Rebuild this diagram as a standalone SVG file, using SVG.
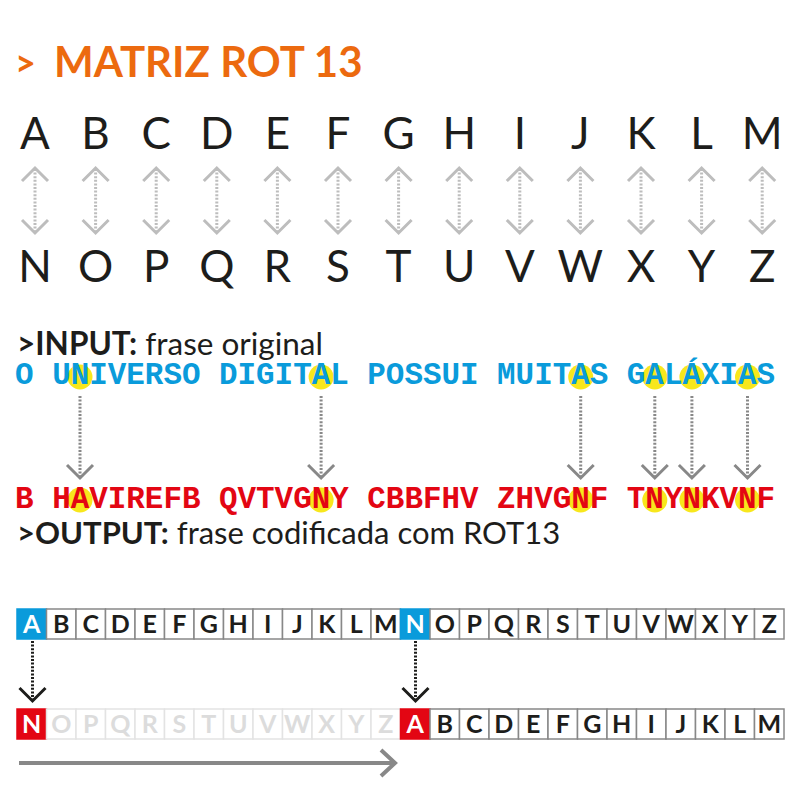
<svg xmlns="http://www.w3.org/2000/svg" width="800" height="800" viewBox="0 0 800 800">
<style>
.title{font-family:Lato,"Liberation Sans",sans-serif;font-weight:700;font-size:42px;fill:#EC6A0F}
.big{font-family:Lato,"Liberation Sans",sans-serif;font-weight:400;font-size:44px;fill:#1d1d1b;text-anchor:middle}
.lbl{font-family:Lato,"Liberation Sans",sans-serif;font-size:31px;fill:#1d1d1b}
.lbl .b{font-weight:700}
.mono{font-family:"Liberation Mono","Courier New",monospace;font-weight:700;font-size:30.9px}
.in{fill:#0A9BDB}
.out{fill:#E30613}
.hl{fill:#F8E71C}
.dl{stroke:#BDBDBD;stroke-width:3;stroke-dasharray:2 1.6;fill:none}
.dc{fill:none;stroke:#BDBDBD;stroke-width:3}
.ar line{stroke:#888;stroke-width:3;stroke-dasharray:2 1.6}
.ar polyline{fill:none;stroke:#888;stroke-width:3}
.dk line{stroke:#1d1d1b;stroke-width:3;stroke-dasharray:2 1.6}
.dk polyline{fill:none;stroke:#1d1d1b;stroke-width:3}
.cell{fill:#fff;stroke:#888;stroke-width:1.5}
.cellL{fill:#fff;stroke:#e3e3e3;stroke-width:1.5}
.ct{font-family:Lato,"Liberation Sans",sans-serif;font-weight:700;font-size:25px;text-anchor:middle;fill:#1d1d1b}
.ctL{fill:#dcdcdc}
.ctW{fill:#fff}
</style>
<defs>
<g id="dbl">
<line class="dl" x1="0" y1="169" x2="0" y2="232"/>
<polyline class="dc" points="-13,181 0,168 13,181"/>
<polyline class="dc" points="-13,220 0,233 13,220"/>
</g>
</defs>

<g id="title">
<text class="title" x="15" y="76" style="font-size:36px">&gt;</text>
<text class="title" x="54" y="77">MATRIZ ROT 13</text>
</g>

<g id="matrix">
<g id="row-top">
<text class="big" x="35" y="149">A</text>
<text class="big" x="95.6" y="149">B</text>
<text class="big" x="156.2" y="149">C</text>
<text class="big" x="216.8" y="149">D</text>
<text class="big" x="277.4" y="149">E</text>
<text class="big" x="338" y="149">F</text>
<text class="big" x="398.6" y="149">G</text>
<text class="big" x="459.2" y="149">H</text>
<text class="big" x="519.8" y="149">I</text>
<text class="big" x="580.4" y="149">J</text>
<text class="big" x="641" y="149">K</text>
<text class="big" x="701.6" y="149">L</text>
<text class="big" x="762.2" y="149">M</text>
</g>
<g id="row-bottom">
<text class="big" x="35" y="282">N</text>
<text class="big" x="95.6" y="282">O</text>
<text class="big" x="156.2" y="282">P</text>
<text class="big" x="216.8" y="282">Q</text>
<text class="big" x="277.4" y="282">R</text>
<text class="big" x="338" y="282">S</text>
<text class="big" x="398.6" y="282">T</text>
<text class="big" x="459.2" y="282">U</text>
<text class="big" x="519.8" y="282">V</text>
<text class="big" x="580.4" y="282">W</text>
<text class="big" x="641" y="282">X</text>
<text class="big" x="701.6" y="282">Y</text>
<text class="big" x="762.2" y="282">Z</text>
</g>
</g>

<g id="matrix-connectors">
<use href="#dbl" x="35"/>
<use href="#dbl" x="95.6"/>
<use href="#dbl" x="156.2"/>
<use href="#dbl" x="216.8"/>
<use href="#dbl" x="277.4"/>
<use href="#dbl" x="338"/>
<use href="#dbl" x="398.6"/>
<use href="#dbl" x="459.2"/>
<use href="#dbl" x="519.8"/>
<use href="#dbl" x="580.4"/>
<use href="#dbl" x="641"/>
<use href="#dbl" x="701.6"/>
<use href="#dbl" x="762.2"/>
</g>

<g id="input-label">
<text class="lbl" x="17" y="355" style="font-size:31.5px"><tspan class="b">&gt;INPUT:</tspan> frase original</text>
</g>

<g id="highlights">
<circle class="hl" cx="80" cy="377" r="12.5"/>
<circle class="hl" cx="321.1" cy="377" r="12.5"/>
<circle class="hl" cx="580.7" cy="377" r="12.5"/>
<circle class="hl" cx="654.8" cy="377" r="12.5"/>
<circle class="hl" cx="691.9" cy="377" r="12.5"/>
<circle class="hl" cx="747.5" cy="377" r="12.5"/>
<circle class="hl" cx="80" cy="500" r="12.5"/>
<circle class="hl" cx="321.1" cy="500" r="12.5"/>
<circle class="hl" cx="580.7" cy="500" r="12.5"/>
<circle class="hl" cx="654.8" cy="500" r="12.5"/>
<circle class="hl" cx="691.9" cy="500" r="12.5"/>
<circle class="hl" cx="747.5" cy="500" r="12.5"/>
</g>

<g id="input-text">
<text class="mono in" x="15.1" y="384" xml:space="preserve">O UNIVERSO DIGITAL POSSUI MUITAS GALÁXIAS</text>
</g>

<g id="output-text">
<text class="mono out" x="15.1" y="508" xml:space="preserve">B HAVIREFB QVTVGNY CBBFHV ZHVGNF TNYNKVNF</text>
</g>

<g id="output-label">
<text class="lbl" x="17" y="544"><tspan class="b">&gt;OUTPUT:</tspan> frase codificada com ROT13</text>
</g>

<g id="sentence-connectors" class="ar">
<line x1="80" y1="396" x2="80" y2="477"/><polyline points="67,465 80,478 93,465"/>
<line x1="321.1" y1="396" x2="321.1" y2="477"/><polyline points="308.1,465 321.1,478 334.1,465"/>
<line x1="580.7" y1="396" x2="580.7" y2="477"/><polyline points="567.7,465 580.7,478 593.7,465"/>
<line x1="654.8" y1="396" x2="654.8" y2="477"/><polyline points="641.8,465 654.8,478 667.8,465"/>
<line x1="691.9" y1="396" x2="691.9" y2="477"/><polyline points="678.9,465 691.9,478 704.9,465"/>
<line x1="747.5" y1="396" x2="747.5" y2="477"/><polyline points="734.5,465 747.5,478 760.5,465"/>
</g>

<g id="grid-top">
<rect x="17" y="609" width="29.5" height="30" fill="#0A9BDB" stroke="#0A9BDB" stroke-width="1.5"/><text class="ct ctW" x="31.75" y="633">A</text>
<rect class="cell" x="46.5" y="609" width="29.5" height="30"/><text class="ct" x="61.25" y="633">B</text>
<rect class="cell" x="76" y="609" width="29.5" height="30"/><text class="ct" x="90.75" y="633">C</text>
<rect class="cell" x="105.5" y="609" width="29.5" height="30"/><text class="ct" x="120.25" y="633">D</text>
<rect class="cell" x="135" y="609" width="29.5" height="30"/><text class="ct" x="149.75" y="633">E</text>
<rect class="cell" x="164.5" y="609" width="29.5" height="30"/><text class="ct" x="179.25" y="633">F</text>
<rect class="cell" x="194" y="609" width="29.5" height="30"/><text class="ct" x="208.75" y="633">G</text>
<rect class="cell" x="223.5" y="609" width="29.5" height="30"/><text class="ct" x="238.25" y="633">H</text>
<rect class="cell" x="253" y="609" width="29.5" height="30"/><text class="ct" x="267.75" y="633">I</text>
<rect class="cell" x="282.5" y="609" width="29.5" height="30"/><text class="ct" x="297.25" y="633">J</text>
<rect class="cell" x="312" y="609" width="29.5" height="30"/><text class="ct" x="326.75" y="633">K</text>
<rect class="cell" x="341.5" y="609" width="29.5" height="30"/><text class="ct" x="356.25" y="633">L</text>
<rect class="cell" x="371" y="609" width="29.5" height="30"/><text class="ct" x="385.75" y="633">M</text>
<rect x="400.5" y="609" width="29.5" height="30" fill="#0A9BDB" stroke="#0A9BDB" stroke-width="1.5"/><text class="ct ctW" x="415.25" y="633">N</text>
<rect class="cell" x="430" y="609" width="29.5" height="30"/><text class="ct" x="444.75" y="633">O</text>
<rect class="cell" x="459.5" y="609" width="29.5" height="30"/><text class="ct" x="474.25" y="633">P</text>
<rect class="cell" x="489" y="609" width="29.5" height="30"/><text class="ct" x="503.75" y="633">Q</text>
<rect class="cell" x="518.5" y="609" width="29.5" height="30"/><text class="ct" x="533.25" y="633">R</text>
<rect class="cell" x="548" y="609" width="29.5" height="30"/><text class="ct" x="562.75" y="633">S</text>
<rect class="cell" x="577.5" y="609" width="29.5" height="30"/><text class="ct" x="592.25" y="633">T</text>
<rect class="cell" x="607" y="609" width="29.5" height="30"/><text class="ct" x="621.75" y="633">U</text>
<rect class="cell" x="636.5" y="609" width="29.5" height="30"/><text class="ct" x="651.25" y="633">V</text>
<rect class="cell" x="666" y="609" width="29.5" height="30"/><text class="ct" x="680.75" y="633">W</text>
<rect class="cell" x="695.5" y="609" width="29.5" height="30"/><text class="ct" x="710.25" y="633">X</text>
<rect class="cell" x="725" y="609" width="29.5" height="30"/><text class="ct" x="739.75" y="633">Y</text>
<rect class="cell" x="754.5" y="609" width="29.5" height="30"/><text class="ct" x="769.25" y="633">Z</text>
</g>

<g id="grid-bottom">
<rect x="17" y="709" width="29.5" height="30" fill="#E30613" stroke="#E30613" stroke-width="1.5"/><text class="ct ctW" x="31.75" y="733">N</text>
<rect class="cellL" x="46.5" y="709" width="29.5" height="30"/><text class="ct ctL" x="61.25" y="733">O</text>
<rect class="cellL" x="76" y="709" width="29.5" height="30"/><text class="ct ctL" x="90.75" y="733">P</text>
<rect class="cellL" x="105.5" y="709" width="29.5" height="30"/><text class="ct ctL" x="120.25" y="733">Q</text>
<rect class="cellL" x="135" y="709" width="29.5" height="30"/><text class="ct ctL" x="149.75" y="733">R</text>
<rect class="cellL" x="164.5" y="709" width="29.5" height="30"/><text class="ct ctL" x="179.25" y="733">S</text>
<rect class="cellL" x="194" y="709" width="29.5" height="30"/><text class="ct ctL" x="208.75" y="733">T</text>
<rect class="cellL" x="223.5" y="709" width="29.5" height="30"/><text class="ct ctL" x="238.25" y="733">U</text>
<rect class="cellL" x="253" y="709" width="29.5" height="30"/><text class="ct ctL" x="267.75" y="733">V</text>
<rect class="cellL" x="282.5" y="709" width="29.5" height="30"/><text class="ct ctL" x="297.25" y="733">W</text>
<rect class="cellL" x="312" y="709" width="29.5" height="30"/><text class="ct ctL" x="326.75" y="733">X</text>
<rect class="cellL" x="341.5" y="709" width="29.5" height="30"/><text class="ct ctL" x="356.25" y="733">Y</text>
<rect class="cellL" x="371" y="709" width="29.5" height="30"/><text class="ct ctL" x="385.75" y="733">Z</text>
<rect x="400.5" y="709" width="29.5" height="30" fill="#E30613" stroke="#E30613" stroke-width="1.5"/><text class="ct ctW" x="415.25" y="733">A</text>
<rect class="cell" x="430" y="709" width="29.5" height="30"/><text class="ct" x="444.75" y="733">B</text>
<rect class="cell" x="459.5" y="709" width="29.5" height="30"/><text class="ct" x="474.25" y="733">C</text>
<rect class="cell" x="489" y="709" width="29.5" height="30"/><text class="ct" x="503.75" y="733">D</text>
<rect class="cell" x="518.5" y="709" width="29.5" height="30"/><text class="ct" x="533.25" y="733">E</text>
<rect class="cell" x="548" y="709" width="29.5" height="30"/><text class="ct" x="562.75" y="733">F</text>
<rect class="cell" x="577.5" y="709" width="29.5" height="30"/><text class="ct" x="592.25" y="733">G</text>
<rect class="cell" x="607" y="709" width="29.5" height="30"/><text class="ct" x="621.75" y="733">H</text>
<rect class="cell" x="636.5" y="709" width="29.5" height="30"/><text class="ct" x="651.25" y="733">I</text>
<rect class="cell" x="666" y="709" width="29.5" height="30"/><text class="ct" x="680.75" y="733">J</text>
<rect class="cell" x="695.5" y="709" width="29.5" height="30"/><text class="ct" x="710.25" y="733">K</text>
<rect class="cell" x="725" y="709" width="29.5" height="30"/><text class="ct" x="739.75" y="733">L</text>
<rect class="cell" x="754.5" y="709" width="29.5" height="30"/><text class="ct" x="769.25" y="733">M</text>
</g>

<g id="grid-connectors">
<g class="dk">
<line x1="32.5" y1="641" x2="32.5" y2="700"/><polyline points="19.5,688 32.5,701 45.5,688"/>
<line x1="415.5" y1="641" x2="415.5" y2="700"/><polyline points="402.5,688 415.5,701 428.5,688"/>
</g>
<g fill="none" stroke="#888" stroke-width="4">
<line x1="19" y1="763" x2="394" y2="763"/>
<polyline points="381,750 395,763 381,776"/>
</g>
</g>
</svg>
